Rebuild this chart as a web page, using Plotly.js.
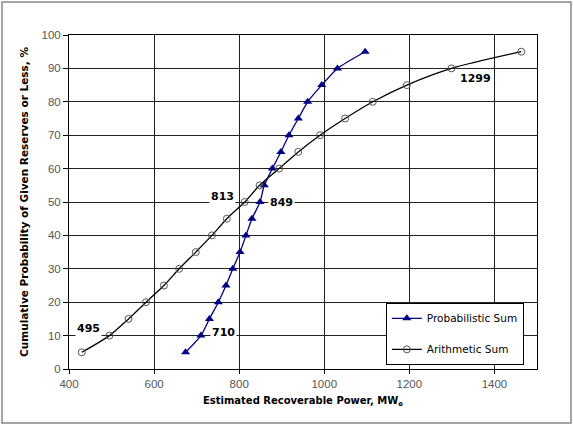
<!DOCTYPE html>
<html>
<head>
<meta charset="utf-8">
<script src="https://cdn.plot.ly/plotly-3.0.1.min.js"></script>
<style>html,body{margin:0;padding:0;background:#fff;}#chart{width:573px;height:426px;}</style>
</head>
<body>
<div id="chart"></div>
<script>
// Cumulative probability levels (%)
const probLevels = [5,10,15,20,25,30,35,40,45,50,55,60,65,70,75,80,85,90,95];
// Probabilistic sum (MWe)
const probabilisticSum = [674,710,730,751,769,785,802,816,830,849,859,878,898,917,939,961,994,1031,1096];
// Arithmetic sum (MWe)
const arithmeticSum = [430,495,540,581,623,659,698,736,771,813,848,894,939,990,1049,1114,1194,1299,1463];
// Callout labels
const labelText = ["495","710","813","849","1299"];
const labelX = [445,762,760,900,1355];
const labelY = [12,11,51.5,50,87];

const traces = [
  {
    x: probabilisticSum, y: probLevels, name: "Probabilistic Sum", legendgroup: "p",
    mode: "lines+markers", type: "scatter",
    line: {color: "#000080", width: 1.3, shape: "spline", smoothing: 0.6},
    marker: {symbol: "triangle-up", size: 8, color: "#000080"}
  },
  {
    x: arithmeticSum, y: probLevels, name: "Arithmetic Sum", legendgroup: "a",
    mode: "lines+markers", type: "scatter",
    line: {color: "#000000", width: 1.3, shape: "spline", smoothing: 0.8},
    marker: {symbol: "circle-open", size: 7, color: "#555555", line: {width: 1, color: "#555555"}}
  }
];

const annotations = labelText.map((t, i) => ({
  x: labelX[i], y: labelY[i], xref: "x", yref: "y", text: t, showarrow: false,
  font: {family: "DejaVu Sans", size: 11, color: "#000", weight: "bold"},
  bgcolor: "#ffffff", borderpad: 1
}));

const layout = {
  width: 573, height: 426,
  margin: {l: 69, r: 36, t: 35, b: 57},
  paper_bgcolor: "#ffffff", plot_bgcolor: "#ffffff",
  showlegend: true,
  legend: {
    x: 0.677, y: 0.198, xanchor: "left", yanchor: "top",
    bgcolor: "#ffffff", bordercolor: "#000", borderwidth: 1,
    font: {family: "DejaVu Sans", size: 10.5, color: "#000"},
    traceorder: "grouped", tracegroupgap: 12
  },
  xaxis: {
    range: [400, 1500], dtick: 200, tick0: 400,
    showgrid: true, gridcolor: "#222", gridwidth: 1,
    showline: true, linecolor: "#000", linewidth: 1, mirror: true,
    ticks: "outside", ticklen: 4, tickcolor: "#000",
    tickfont: {family: "Liberation Sans", size: 11.5, color: "#555"},
    zeroline: false,
    title: {text: "<b>Estimated Recoverable Power, MW<sub>e</sub></b>",
            font: {family: "DejaVu Sans", size: 10, color: "#000"}, standoff: 8}
  },
  yaxis: {
    range: [0, 100], dtick: 10,
    showgrid: true, gridcolor: "#222", gridwidth: 1,
    showline: true, linecolor: "#000", linewidth: 1, mirror: true,
    ticks: "outside", ticklen: 5, tickcolor: "#000",
    tickfont: {family: "Liberation Sans", size: 11.5, color: "#555"},
    zeroline: false,
    title: {text: "<b>Cumulative Probability of Given Reserves or Less, %</b>",
            font: {family: "DejaVu Sans", size: 10.5, color: "#000"}, standoff: 10}
  },
  annotations: annotations,
  shapes: [
    {type: "rect", xref: "paper", yref: "paper", x0: -0.1432, x1: 1.0726, y0: -0.1617, y1: 1.0988,
     line: {color: "#888", width: 1.5}, fillcolor: "rgba(0,0,0,0)", layer: "below"}
  ]
};

Plotly.newPlot("chart", traces, layout, {displayModeBar: false, staticPlot: true});
</script>
</body>
</html>
